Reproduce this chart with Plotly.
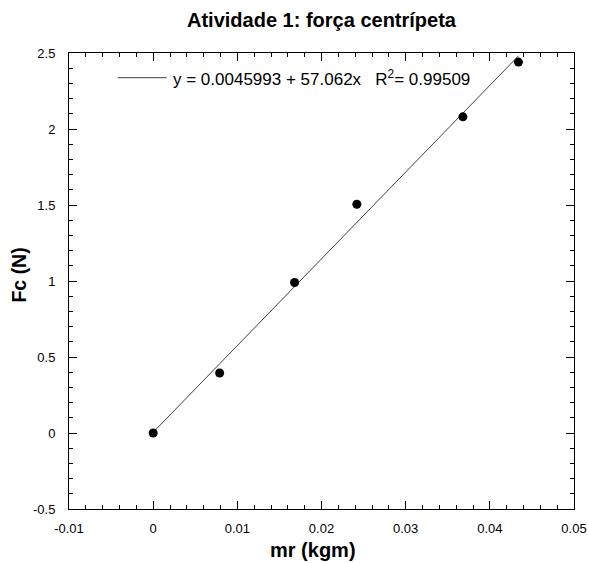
import plotly.graph_objects as go
import numpy as np

# data
mr = [0.0, 0.0079, 0.0168, 0.0242, 0.0368, 0.0434]
fc = [0.0, 0.395, 0.99, 1.505, 2.08, 2.44]

fit_intercept = 0.0045993
fit_slope = 57.062
fit_r2 = 0.99509

x_ticks = [-0.01, 0.0, 0.01, 0.02, 0.03, 0.04, 0.05]
x_ticktext = ["-0.01", "0", "0.01", "0.02", "0.03", "0.04", "0.05"]
y_ticks = [-0.5, 0.0, 0.5, 1.0, 1.5, 2.0, 2.5]
y_ticktext = ["-0.5", "0", "0.5", "1", "1.5", "2", "2.5"]

FONT = "Liberation Sans, Arial, Helvetica"

W, H = 589, 563
PL, PR, PT, PB = 69.3, 574.3, 53.3, 509.0   # plot area in px

fit_x = np.array([min(mr), max(mr)])
fit_y = fit_intercept + fit_slope * fit_x

fig = go.Figure()
fig.add_trace(go.Scatter(
    x=fit_x, y=fit_y, mode="lines",
    line=dict(color="#404040", width=1),
    showlegend=False, hoverinfo="skip",
))
fig.add_trace(go.Scatter(
    x=mr, y=fc, mode="markers",
    marker=dict(color="black", size=9),
    showlegend=False,
))

axis_common = dict(
    showline=True, linecolor="black", linewidth=1, mirror="allticks",
    ticks="inside", ticklen=8, tickwidth=1, tickcolor="black",
    showgrid=False, zeroline=False, automargin=False,
    ticklabeloverflow="allow",
    tickfont=dict(family=FONT, size=13, color="black"),
)

fig.update_xaxes(
    range=[-0.01, 0.05], tickmode="array", tickvals=x_ticks, ticktext=x_ticktext,
    minor=dict(dtick=0.002, tick0=0, ticks="inside", ticklen=4, tickcolor="black", showgrid=False),
    ticklabelstandoff=7,
    **axis_common,
)
fig.update_yaxes(
    range=[-0.5, 2.5], tickmode="array", tickvals=y_ticks, ticktext=y_ticktext,
    minor=dict(dtick=0.1, tick0=0, ticks="inside", ticklen=4, tickcolor="black", showgrid=False),
    ticklabelstandoff=10,
    **axis_common,
)

pw, ph = PR - PL, PB - PT

def px(xs):  # screen x -> paper
    return (xs - PL) / pw

def py(ys):  # screen y -> paper
    return (PB - ys) / ph

# legend-like key: sample line + equation text
fig.add_shape(type="line", xref="paper", yref="paper",
              x0=px(118), x1=px(167), y0=py(78), y1=py(78),
              line=dict(color="#404040", width=1))
fig.add_annotation(
    xref="paper", yref="paper", x=px(171), y=py(78), xanchor="left", yanchor="middle",
    text=f"y = {fit_intercept} + {fit_slope}x   R<sup>2</sup>= {fit_r2}",
    showarrow=False, font=dict(family=FONT, size=17, color="black"),
)

# axis titles
fig.add_annotation(
    xref="paper", yref="paper", x=px(313), y=py(550),
    xanchor="center", yanchor="middle", text="<b>mr (kgm)</b>",
    showarrow=False, font=dict(family=FONT, size=20, color="black"),
)
fig.add_annotation(
    xref="paper", yref="paper", x=px(19), y=py(275),
    xanchor="center", yanchor="middle", text="<b>Fc (N)</b>", textangle=-90,
    showarrow=False, font=dict(family=FONT, size=19.5, color="black"),
)

fig.update_layout(
    width=W, height=H,
    margin=dict(l=PL, r=W - PR, t=PT, b=H - PB),
    paper_bgcolor="white", plot_bgcolor="white",
    title=dict(text="<b>Atividade 1: força centrípeta</b>", x=0.5, xref="paper",
               y=1 - 20 / H, yanchor="middle",
               font=dict(family=FONT, size=20, color="black")),
    showlegend=False,
)

fig.write_html(
    "out.html",
    config={"displayModeBar": False},
    post_script=(
        "document.body.style.margin='0';"
        "document.body.style.overflow='hidden';"
        "document.documentElement.style.overflow='hidden';"
    ),
)
